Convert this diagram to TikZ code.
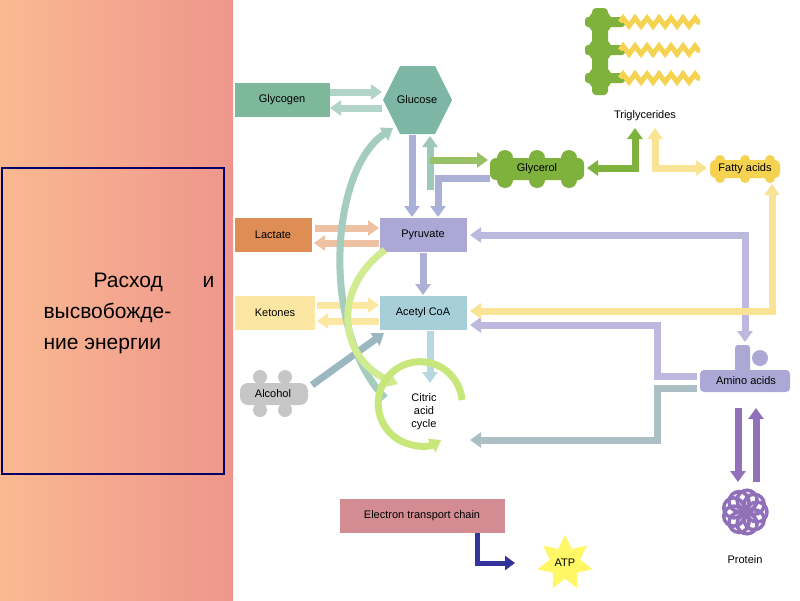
\documentclass[tikz,border=0pt]{standalone}
\usepackage{fontspec}
\setmainfont{Liberation Sans}
\usetikzlibrary{arrows.meta,shapes.geometric,decorations.pathmorphing}
\definecolor{cGly}{HTML}{7DB89A}
\definecolor{cGlu}{HTML}{7DB6A4}
\definecolor{cLac}{HTML}{DE8E55}
\definecolor{cPyr}{HTML}{ACA8D6}
\definecolor{cKet}{HTML}{FBE7A2}
\definecolor{cAce}{HTML}{A6CFDA}
\definecolor{cGrn}{HTML}{7FB23C}
\definecolor{cYel}{HTML}{F5D250}
\definecolor{cVio}{HTML}{9070B8}
\definecolor{cEtc}{HTML}{D48C93}
\begin{document}
\begin{tikzpicture}[x=1pt,y=-1pt,
  box/.style={draw=none,minimum height=34pt,font=\fontsize{11}{13}\selectfont,inner sep=2pt},
  ar/.style={line width=7pt,-{Triangle[length=11pt,width=15pt]}},
  ar2/.style={line width=7pt,{Triangle[length=11pt,width=15pt]}-{Triangle[length=11pt,width=15pt]}},
  lbl/.style={font=\fontsize{11}{13}\selectfont}]
\useasboundingbox (0,0) rectangle (800,600);
\fill[white] (0,0) rectangle (800,600);
\shade[left color={rgb,255:red,250;green,185;blue,145}, right color={rgb,255:red,238;green,150;blue,140}] (0,0) rectangle (233,600);
\draw[draw=blue!40!black,line width=1.2pt] (2,168) rectangle (224,474);
\node[align=left,font=\fontsize{21}{31}\selectfont,anchor=north west] (ttl) at (40,270)
 {\hspace*{50pt}Расход\hspace{40pt}и\\высвобожде-\\ние энергии};
% nodes
\node[box,fill=cGly,minimum width=95pt] (glycogen) at (282,100) {Glycogen};
\fill[cGlu] (383,100)--(400,66)--(435,66)--(452,100)--(435,134)--(400,134)--cycle;
\node[lbl] (glucose) at (417,100) {Glucose};
\node[box,fill=cLac,minimum width=77pt] (lactate) at (273,235) {Lactate};
\node[box,fill=cPyr,minimum width=87pt] (pyruvate) at (423,235) {Pyruvate};
\node[box,fill=cKet,minimum width=80pt] (ketones) at (275,313) {Ketones};
\node[box,fill=cAce,minimum width=87pt] (acetyl) at (423,313) {Acetyl CoA};
% arrows
\draw[ar,cGlu!60] (330,92)--(382,92);
\draw[ar,cGlu!60] (382,108)--(330,108);
\draw[ar,cPyr!80!cAce] (412,135)--(412,217);
\draw[ar,cGlu!75] (430,190)--(430,136);
\draw[ar,cGrn!80] (430,160)--(488,160);
\draw[ar,cPyr!80!cAce] (490,178)--(438,178)--(438,217);
\draw[ar,cLac!55] (315,228)--(379,228);
\draw[ar,cLac!55] (379,243)--(314,243);
\draw[ar,cKet] (317,305)--(379,305);
\draw[ar,cKet] (379,321)--(317,321);
\draw[ar,cPyr!80!cAce] (423,253)--(423,295);
\draw[ar,cAce!80] (430,331)--(430,383);
\draw[ar,cAce!70!gray] (312,385)--(384,333);
\draw[ar,cGlu!70] (385,398) .. controls (320,330) and (330,170) .. (393,128);
\draw[ar,yellow!60!green!45] (385,250) .. controls (330,290) and (340,360) .. (398,384);
\draw[line width=7pt,yellow!60!green!55,-{Triangle[length=11pt,width=15pt]}] (462,400) arc (-5:-300:42);
\draw[ar2,cPyr!80] (470,235)--(745,235)--(745,342);
\draw[ar,cPyr!80] (697,376)--(657,376)--(657,325)--(470,325);
\draw[ar,cAce!60!gray!80] (697,388)--(657,388)--(657,440)--(470,440);
\draw[ar2,cYel!60] (470,311)--(772,311)--(772,184);
\draw[ar2,cYel!60] (655,128)--(655,168)--(707,168);
\draw[ar2,cGrn] (587,168)--(635,168)--(635,128);
\draw[ar,cVio] (738,408)--(738,482);
\draw[ar,cVio] (756,482)--(756,408);
\draw[line width=5pt,blue!50!black!80,-{Triangle[length=10pt,width=14pt]}] (477,533)--(477,563)--(515,563);
% glycerol
\begin{scope}[cGrn]
\fill[rounded corners=6pt] (490,158) rectangle (584,180);
\foreach \xx in {505,537,569}{\fill (\xx,158) circle (8); \fill (\xx,180) circle (8);}
\end{scope}
\node[lbl] (glycerol) at (537,169) {Glycerol};
% fatty acids
\begin{scope}[cYel]
\fill[rounded corners=5pt] (710,160) rectangle (780,178);
\foreach \xx in {720,745,770}{\fill (\xx,160) circle (5); \fill (\xx,178) circle (5);}
\end{scope}
\node[lbl] (fatty) at (745,169) {Fatty acids};
% triglycerides
\fill[cGrn,rounded corners=4pt] (592,8) rectangle (608,95);
\foreach \yy in {22,50,78}{
 \fill[cGrn] (600,\yy) circle (12);
 \fill[cGrn,rounded corners=3pt] (585,\yy-5) rectangle (625,\yy+5);
 \draw[cYel,line width=5pt,decorate,decoration={zigzag,amplitude=4pt,segment length=12pt}] (620,\yy)--(700,\yy);}
\node[lbl] (trig) at (645,116) {Triglycerides};
% amino acids
\fill[cPyr,rounded corners=4pt] (700,370) rectangle (790,392);
\fill[cPyr,rounded corners=3pt] (735,345) rectangle (750,372);
\fill[cPyr] (760,358) circle (8);
\node[lbl] (amino) at (746,381) {Amino acids};
% protein
\foreach \a in {0,40,...,320}{\draw[cVio,line width=3.5pt] (745,512)+(\a:12) circle (10);}
\node[lbl] (protein) at (745,560) {Protein};
% alcohol
\fill[gray!45,rounded corners=8pt] (240,383) rectangle (308,405);
\foreach \xx in {260,285}{\fill[gray!45] (\xx,377) circle (7); \fill[gray!45] (\xx,410) circle (7);}
\node[lbl] (alcohol) at (273,394) {Alcohol};
% citric
\node[lbl,align=center,font=\fontsize{11}{13}\selectfont] (citric) at (424,412) {Citric\\acid\\cycle};
% ETC and ATP
\node[box,fill=cEtc,minimum width=165pt] (etc) at (422,516) {Electron transport chain};
\node[star,star points=7,star point ratio=1.8,fill=yellow!60,minimum size=56pt,inner sep=0] (atpstar) at (565,563) {};
\node[lbl] (atp) at (565,563) {ATP};
\end{tikzpicture}
\end{document}
